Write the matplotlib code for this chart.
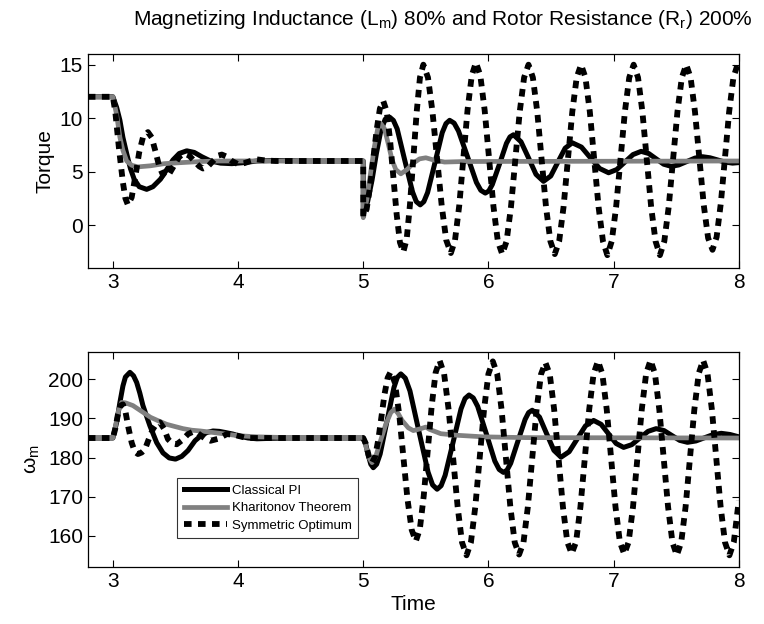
import numpy as np
import matplotlib
matplotlib.use('Agg')
import matplotlib.pyplot as plt

plt.rcParams['font.family'] = ['Liberation Sans', 'DejaVu Sans']
plt.rcParams['mathtext.fontset'] = 'custom'
plt.rcParams['mathtext.rm'] = 'Liberation Sans'
plt.rcParams['mathtext.it'] = 'Liberation Sans'

# (time, value)
pi_torque = [
	(2.8, 12), (3.0, 12), (3.03, 11.0), (3.056, 9.8), (3.08, 8.2), (3.11, 6.7), (3.14, 5.3),
	(3.17, 4.3), (3.21, 3.6), (3.27, 3.35), (3.32, 3.6), (3.38, 4.3), (3.43, 5.2), (3.48, 6.1),
	(3.53, 6.7), (3.59, 6.95), (3.65, 6.8), (3.71, 6.4), (3.78, 6.0), (3.86, 5.8), (3.95, 5.75),
	(4.05, 5.85), (4.15, 6.0), (4.3, 6.05), (4.5, 6.0), (5.0, 6.0),
	(5.0, 1.0), (5.035, 2.2), (5.07, 4.2), (5.105, 6.7), (5.14, 8.8), (5.175, 9.9), (5.21, 10.1),
	(5.241, 9.79), (5.271, 9.0), (5.333, 6.0), (5.394, 3.1), (5.424, 2.2), (5.455, 1.9),
	(5.484, 2.2), (5.514, 3.05), (5.573, 5.85), (5.631, 8.65), (5.661, 9.5), (5.69, 9.8),
	(5.726, 9.54), (5.761, 8.8), (5.833, 6.4), (5.904, 4.0), (5.939, 3.26), (5.975, 3.0),
	(6.003, 3.2), (6.031, 3.8), (6.088, 5.7), (6.144, 7.65), (6.172, 8.25), (6.2, 8.45),
	(6.26, 7.8), (6.32, 6.3), (6.38, 4.75), (6.44, 4.1), (6.498, 4.6), (6.555, 5.9),
	(6.613, 7.2), (6.67, 7.7), (6.743, 7.3), (6.815, 6.3), (6.888, 5.3), (6.96, 4.9),
	(7.025, 5.2), (7.09, 5.9), (7.155, 6.6), (7.22, 6.9), (7.28, 6.7), (7.34, 6.2),
	(7.40, 5.7), (7.46, 5.5), (7.52, 5.63), (7.585, 5.95), (7.65, 6.27), (7.71, 6.4),
	(7.77, 6.3), (7.83, 6.1), (7.89, 5.9), (7.95, 5.8), (8.0, 5.85),
]

kh_torque = [
	(2.8, 12), (3.0, 12), (3.03, 10.3), (3.056, 8.2), (3.08, 7.0), (3.11, 6.0), (3.15, 5.6),
	(3.2, 5.45), (3.3, 5.55), (3.41, 5.75), (3.55, 5.85), (3.7, 5.95), (3.85, 6.0), (5.0, 6.0),
	(5.0, 0.7), (5.03, 2.5), (5.06, 5.0), (5.09, 7.4), (5.115, 9.0), (5.14, 9.5), (5.17, 9.0),
	(5.2, 7.6), (5.23, 6.1), (5.26, 5.2), (5.3, 4.8), (5.35, 5.2), (5.4, 5.8), (5.45, 6.2),
	(5.5, 6.3), (5.56, 6.1), (5.65, 5.9), (5.8, 5.95), (8.0, 6.0),
]

so_torque = [
	(2.8, 12), (3.0, 12), (3.02, 10.5), (3.05, 7.0), (3.08, 4.0), (3.1, 2.5), (3.12, 1.9),
	(3.15, 2.6), (3.18, 4.6), (3.21, 6.8), (3.24, 8.2), (3.28, 8.7), (3.31, 8.2), (3.34, 6.9),
	(3.37, 5.5), (3.4, 4.7), (3.42, 4.5), (3.45, 4.8), (3.49, 5.6), (3.53, 6.4), (3.57, 6.7),
	(3.61, 6.5), (3.65, 6.0), (3.69, 5.5), (3.72, 5.3), (3.76, 5.5), (3.8, 6.0), (3.84, 6.5),
	(3.87, 6.6), (3.91, 6.4), (3.95, 6.0), (4.0, 5.7), (4.05, 5.8), (4.1, 6.0), (4.15, 6.15),
	(4.22, 6.05), (4.3, 6.0), (5.0, 6.0),
	(5.0, 0.8), (5.027, 1.5), (5.053, 3.5), (5.08, 6.2), (5.107, 8.9), (5.133, 10.9), (5.16, 11.6),
	(5.187, 10.65), (5.213, 8.1), (5.24, 4.55), (5.267, 1.0), (5.293, -1.6), (5.32, -2.5),
	(5.347, -1.3), (5.373, 1.9), (5.4, 6.2), (5.427, 10.6), (5.453, 13.8), (5.48, 15.0),
	(5.517, 13.8), (5.553, 10.6), (5.59, 6.2), (5.627, 1.8), (5.663, -1.4), (5.7, -2.6),
	(5.733, -1.4), (5.767, 1.85), (5.8, 6.3), (5.833, 10.75), (5.867, 14.0), (5.9, 15.2),
	(5.935, 14.0), (5.97, 10.73), (6.005, 6.25), (6.04, 1.77), (6.075, -1.5), (6.11, -2.7),
	(6.145, -1.5), (6.18, 1.7), (6.215, 6.15), (6.25, 10.6), (6.285, 13.8), (6.32, 15.0),
	(6.355, 13.8), (6.39, 10.6), (6.425, 6.15), (6.46, 1.7), (6.495, -1.5), (6.53, -2.7),
	(6.565, -1.5), (6.6, 1.7), (6.635, 6.15), (6.67, 10.6), (6.705, 13.8), (6.74, 15.0),
	(6.775, 13.8), (6.81, 10.6), (6.845, 6.15), (6.88, 1.7), (6.915, -1.5), (6.95, -2.8),
	(6.985, -1.5), (7.02, 1.7), (7.055, 6.15), (7.09, 10.6), (7.125, 13.8), (7.16, 15.0),
	(7.195, 13.8), (7.23, 10.6), (7.265, 6.15), (7.3, 1.7), (7.335, -1.5), (7.37, -2.8),
	(7.405, -1.5), (7.44, 1.7), (7.475, 6.15), (7.51, 10.6), (7.545, 13.8), (7.58, 15.0),
	(7.615, 13.8), (7.65, 10.6), (7.685, 6.3), (7.72, 1.9), (7.755, -1.2), (7.79, -2.3),
	(7.823, -1.1), (7.857, 2.1), (7.89, 6.35), (7.923, 10.6), (7.957, 13.8), (7.99, 15.0),
	(8.0, 15.0),
]

pi_speed = [
	(2.8, 185), (3.0, 185), (3.03, 189.0), (3.056, 194.1), (3.08, 198.3), (3.1, 200.6),
	(3.136, 201.8), (3.165, 200.9), (3.19, 199.2), (3.215, 196.5), (3.24, 193.3), (3.27, 190.5),
	(3.296, 188.1), (3.35, 183.8), (3.4, 181.2), (3.45, 179.9), (3.5, 179.6), (3.55, 180.3),
	(3.6, 181.8), (3.656, 184.3), (3.7, 185.5), (3.75, 186.4), (3.8, 186.8), (3.85, 186.7),
	(3.9, 186.4), (3.96, 186.0), (4.02, 185.4), (4.08, 185.0), (4.15, 184.8), (4.25, 184.9),
	(4.4, 185.0), (5.0, 185.0),
	(5.02, 183.4), (5.04, 180.6), (5.06, 178.3), (5.08, 177.4), (5.107, 178.3), (5.135, 180.9),
	(5.19, 189.4), (5.245, 197.9), (5.272, 200.5), (5.3, 201.4), (5.336, 200.3), (5.373, 197.05),
	(5.445, 186.65), (5.518, 176.25), (5.554, 173.0), (5.59, 171.9), (5.622, 172.8),
	(5.654, 175.45), (5.718, 183.95), (5.781, 192.45), (5.813, 195.1), (5.845, 196.0),
	(5.879, 195.25), (5.914, 193.1), (5.983, 186.1), (6.051, 179.1), (6.086, 176.95),
	(6.12, 176.2), (6.149, 176.8), (6.178, 178.55), (6.235, 184.15), (6.293, 189.75),
	(6.321, 191.5), (6.35, 192.1), (6.408, 190.35), (6.465, 186.1), (6.523, 181.85),
	(6.58, 180.1), (6.645, 181.5), (6.71, 184.8), (6.775, 188.1), (6.84, 189.5), (6.9, 188.5),
	(6.96, 186.05), (7.02, 183.6), (7.08, 182.6), (7.145, 183.3), (7.21, 185.0), (7.275, 186.7),
	(7.34, 187.4), (7.403, 186.9), (7.465, 185.65), (7.528, 184.4), (7.59, 183.9),
	(7.658, 184.25), (7.725, 185.05), (7.793, 185.85), (7.86, 186.2), (7.93, 185.9), (8.0, 185.3),
]

kh_speed = [
	(2.8, 185), (3.0, 185), (3.02, 188.0), (3.045, 192.0), (3.07, 194.1), (3.1, 194.0),
	(3.16, 193.3), (3.23, 191.8), (3.3, 190.3), (3.37, 189.3), (3.43, 188.5), (3.5, 187.9),
	(3.56, 187.4), (3.63, 187.0), (3.7, 186.8), (3.83, 186.3), (4.0, 185.6), (4.15, 185.3),
	(4.4, 185.1), (5.0, 185.0), (5.02, 183.0), (5.045, 180.0), (5.07, 178.7), (5.1, 180.3),
	(5.14, 184.5), (5.18, 188.5), (5.22, 191.5), (5.25, 192.4), (5.28, 191.2), (5.31, 189.5),
	(5.36, 187.6), (5.4, 186.9), (5.45, 187.3), (5.5, 187.8), (5.53, 187.2), (5.62, 186.1),
	(5.75, 185.7), (5.96, 185.3), (6.3, 185.1), (8.0, 185.0),
]

so_speed = [
	(2.8, 185), (3.0, 185), (3.02, 187.5), (3.04, 191.0), (3.06, 193.3), (3.08, 193.6),
	(3.1, 191.8), (3.125, 187.5), (3.15, 183.8), (3.175, 181.5), (3.2, 180.9), (3.23, 181.3),
	(3.256, 182.1), (3.29, 185.0), (3.32, 187.3), (3.35, 188.7), (3.376, 189.0), (3.41, 187.3),
	(3.44, 184.7), (3.475, 183.6), (3.51, 183.4), (3.555, 184.5), (3.6, 186.0), (3.64, 186.6),
	(3.68, 186.2), (3.73, 185.0), (3.78, 184.3), (3.84, 184.8), (3.91, 186.0), (3.97, 185.8),
	(4.07, 185.0), (5.0, 185.0),
	(5.02, 183.6), (5.045, 180.3), (5.07, 178.7), (5.095, 180.3), (5.12, 184.5), (5.145, 190.35),
	(5.17, 196.2), (5.195, 200.4), (5.22, 202.0), (5.253, 199.1), (5.287, 191.15), (5.32, 180.3),
	(5.353, 169.45), (5.387, 161.5), (5.42, 158.6), (5.452, 161.7), (5.483, 170.15),
	(5.515, 181.7), (5.547, 193.25), (5.578, 201.7), (5.61, 204.8),
	(5.646, 201.4), (5.682, 192.3), (5.718, 179.85), (5.754, 167.4), (5.789, 158.3), (5.825, 155.0),
	(5.86, 158.3), (5.895, 167.4), (5.93, 179.85), (5.965, 192.3), (6.0, 201.4), (6.035, 204.6),
	(6.07, 201.4), (6.105, 192.3), (6.14, 179.85), (6.175, 167.4), (6.21, 158.3), (6.245, 155.2),
	(6.28, 158.3), (6.315, 167.4), (6.35, 179.85), (6.385, 192.3), (6.42, 201.3), (6.455, 204.3),
	(6.49, 201.3), (6.525, 192.3), (6.56, 179.85), (6.595, 167.4), (6.63, 158.4), (6.665, 155.4),
	(6.7, 158.4), (6.735, 167.4), (6.77, 179.85), (6.805, 192.3), (6.84, 201.4), (6.875, 204.7),
	(6.91, 201.4), (6.945, 192.3), (6.98, 179.85), (7.015, 167.4), (7.05, 158.4), (7.085, 155.3),
	(7.12, 158.4), (7.155, 167.4), (7.19, 179.85), (7.225, 192.3), (7.26, 201.5), (7.295, 204.9),
	(7.33, 201.5), (7.365, 192.3), (7.4, 179.85), (7.435, 167.4), (7.47, 158.3), (7.505, 155.0),
	(7.54, 158.3), (7.575, 167.4), (7.61, 179.85), (7.645, 192.3), (7.68, 201.5), (7.715, 204.9),
	(7.75, 201.5), (7.785, 192.3), (7.82, 179.85), (7.855, 167.4), (7.89, 158.3), (7.925, 155.0),
	(7.96, 158.3), (8.0, 169.0),
]

labels = ['Classical PI', 'Kharitonov Theorem', 'Symmetric Optimum']
torque_ticks = [0, 5, 10, 15]
speed_ticks = [160, 170, 180, 190, 200]
time_ticks = [3, 4, 5, 6, 7, 8]


def draw_series(ax, pi, kh, so):
	t, y = np.array(pi).T
	ax.plot(t, y, color='black', lw=3.6, solid_joinstyle='round', label=labels[0])
	t, y = np.array(kh).T
	ax.plot(t, y, color='#808080', lw=3.4, solid_joinstyle='round', label=labels[1])
	t, y = np.array(so).T
	ax.plot(t, y, color='black', lw=4.2, linestyle=(0, (1.3, 1.1)),
			dash_capstyle='butt', label=labels[2])


def style_axes(ax, yticks):
	ax.set_xlim(2.8, 8)
	ax.set_xticks(time_ticks)
	ax.set_yticks(yticks)
	ax.tick_params(direction='in', top=True, right=True, length=5, width=0.8, labelsize=15)
	for s in ax.spines.values():
		s.set_linewidth(0.9)


fig = plt.figure(figsize=(7.64, 6.24), dpi=100)
ax1 = fig.add_axes([0.115, 0.5705, 0.852, 0.343])
ax2 = fig.add_axes([0.115, 0.0913, 0.852, 0.3446])

draw_series(ax1, pi_torque, kh_torque, so_torque)
style_axes(ax1, torque_ticks)
ax1.set_ylim(-4, 16)
ax1.set_ylabel('Torque', fontsize=15)
fig.text(0.58, 0.968,
		 r'Magnetizing Inductance (L$_\mathrm{m}$) 80% and Rotor Resistance (R$_\mathrm{r}$) 200%',
		 fontsize=15, ha='center', va='center')

draw_series(ax2, pi_speed, kh_speed, so_speed)
style_axes(ax2, speed_ticks)
ax2.set_ylim(152, 207)
ax2.set_ylabel(r'$\omega_\mathrm{m}$', fontsize=15)
ax2.set_xlabel('Time', fontsize=15, labelpad=3)
leg = ax2.legend(loc='lower left', bbox_to_anchor=(0.137, 0.133), fontsize=9.5,
				 handlelength=3.3, frameon=True, fancybox=False, borderaxespad=0,
				 labelspacing=0.4, handletextpad=0.35, borderpad=0.5)
leg.get_frame().set_edgecolor('black')
leg.get_frame().set_linewidth(0.8)

fig.savefig('out.png', dpi=100)
